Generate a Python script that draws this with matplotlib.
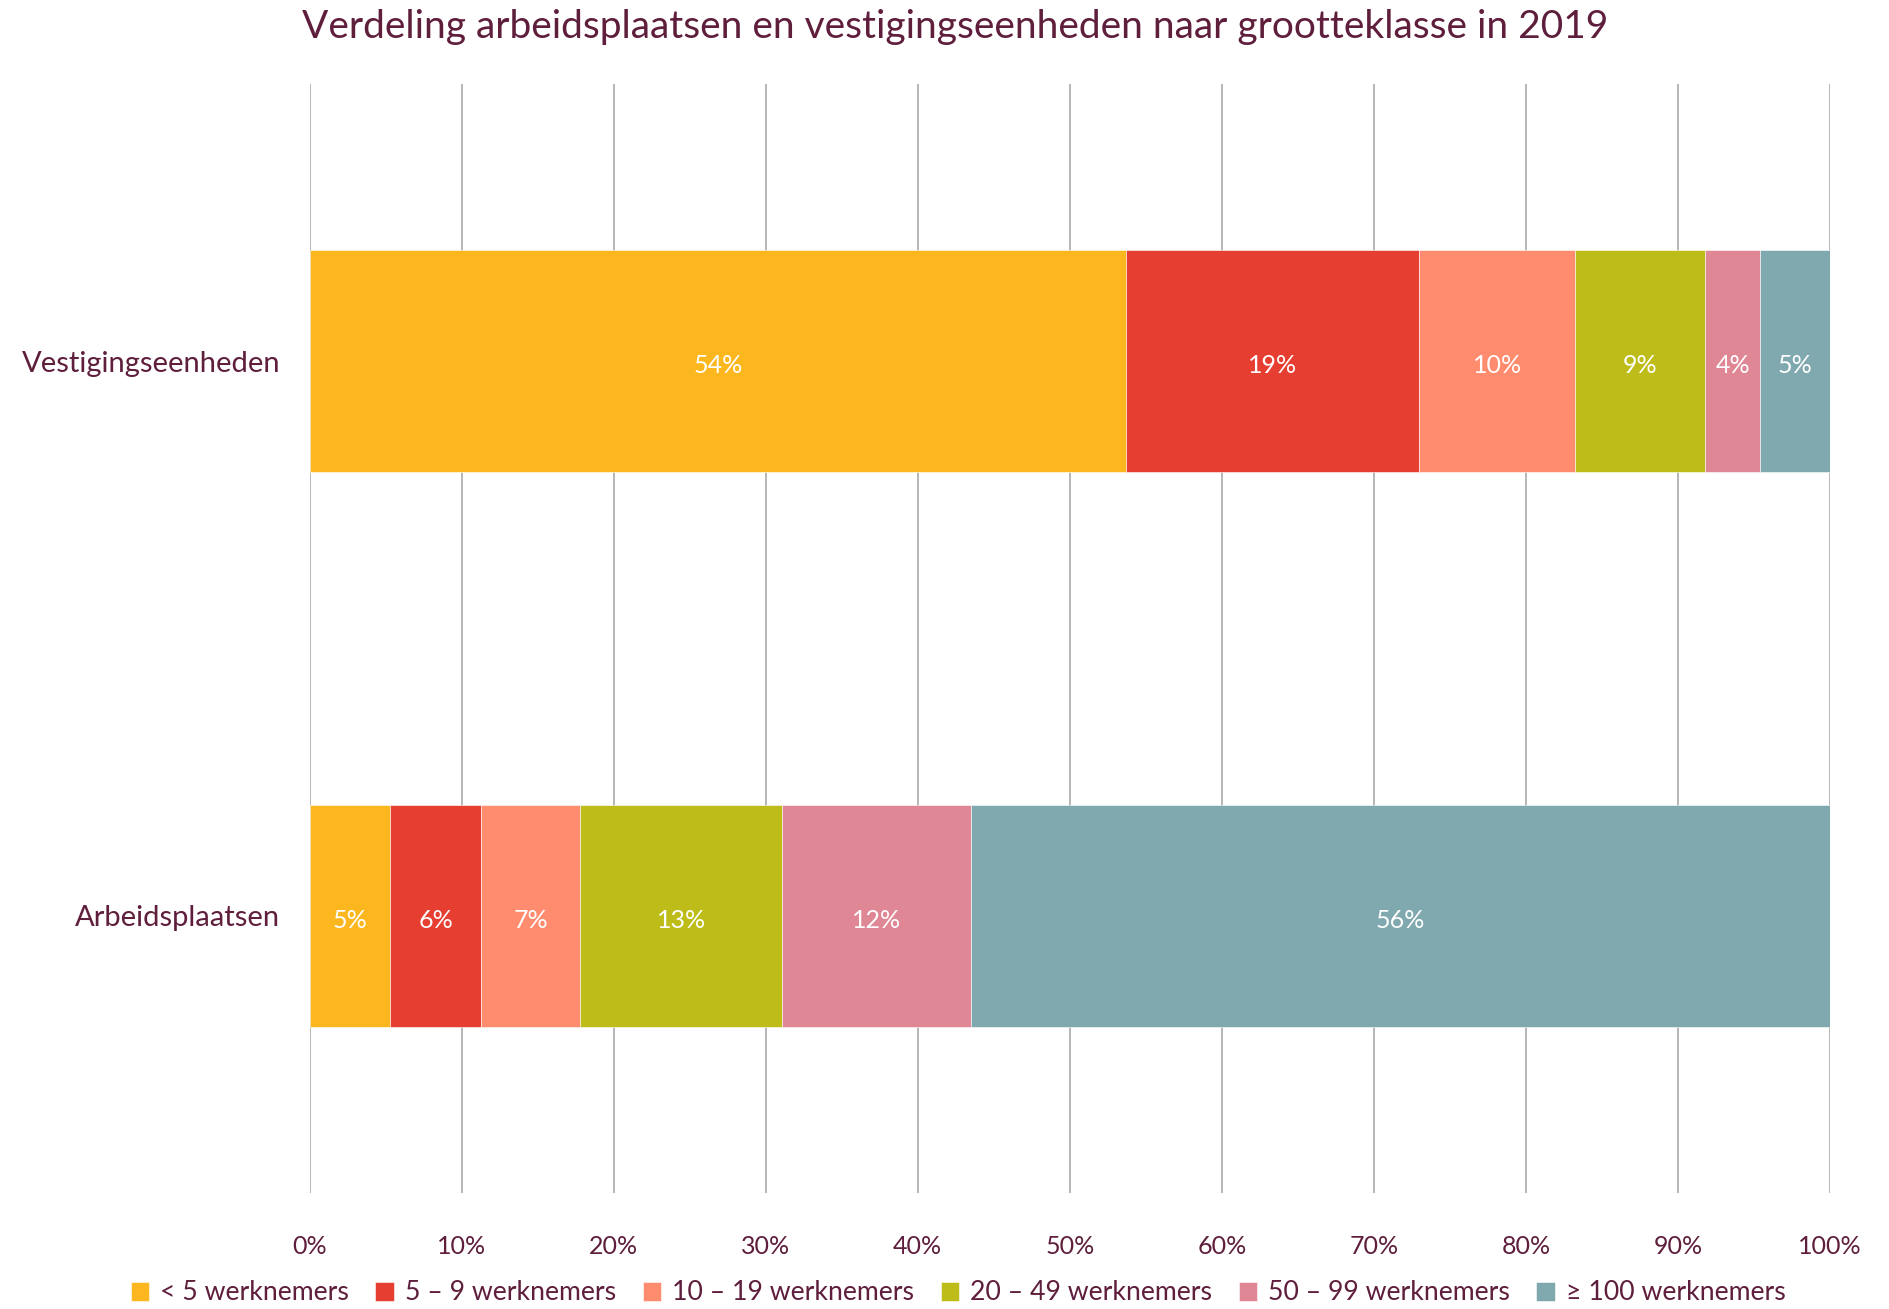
import matplotlib
matplotlib.use("Agg")
import matplotlib.pyplot as plt
import numpy as np

categories = ["Vestigingseenheden", "Arbeidsplaatsen"]
series_names = ["< 5 werknemers", "5 – 9 werknemers", "10 – 19 werknemers",
                "20 – 49 werknemers", "50 – 99 werknemers", "≥ 100 werknemers"]
vestigingseenheden = [53.7, 19.3, 10.2, 8.6, 3.6, 4.6]
arbeidsplaatsen = [5.3, 6.0, 6.5, 13.3, 12.4, 56.5]
labels_vest = ["54%", "19%", "10%", "9%", "4%", "5%"]
labels_arb = ["5%", "6%", "7%", "13%", "12%", "56%"]
colors = ["#FDB71E", "#E63E30", "#FF8C6E", "#BDBC19", "#DF8795", "#7FA8AF"]
xticks = list(range(0, 101, 10))
xticklabels = [f"{t}%" for t in xticks]

text_color = "#5E1E3C"
plt.rcParams['font.family'] = ['Lato', 'DejaVu Sans']

fig = plt.figure(figsize=(18.89, 13.09), dpi=100)
ax = fig.add_axes([309.6/1889, 1-1193/1309, (1830-309.6)/1889, (1193-84)/1309])

data = [vestigingseenheden, arbeidsplaatsen]
labels = [labels_vest, labels_arb]
ypos = [1, 0]
for j in range(len(series_names)):
    vals = [d[j] for d in data]
    lefts = [sum(d[:j]) for d in data]
    bars = ax.barh(ypos, vals, left=lefts, height=0.4, color=colors[j],
                   edgecolor="white", linewidth=0.4, label=series_names[j], zorder=2)
    for b, lab in zip(bars, [l[j] for l in labels]):
        ax.text(b.get_x() + b.get_width()/2, b.get_y() + b.get_height()/2 - 0.008, lab,
                ha="center", va="center", color="white", fontsize=18, zorder=3)

ax.set_xlim(0, 100)
ax.set_ylim(-0.5, 1.5)
ax.set_xticks(xticks)
ax.set_xticklabels(xticklabels, color=text_color, fontsize=18)
ax.set_yticks(ypos)
ax.set_yticklabels(categories, color=text_color, fontsize=21)
ax.tick_params(axis="x", length=0, pad=30)
ax.tick_params(axis="y", length=0, pad=21)
ax.grid(axis="x", color="#AAAAAA", linewidth=1.2, zorder=0)
ax.set_axisbelow(True)
for s in ax.spines.values():
    s.set_visible(False)

fig.text(955/1889, 1-27/1309, "Verdeling arbeidsplaatsen en vestigingseenheden naar grootteklasse in 2019",
         ha="center", va="center", color=text_color, fontsize=28)

leg = fig.legend(loc="center", bbox_to_anchor=(958/1889, 1-1293/1309), ncol=6, frameon=False,
                 fontsize=19.2, handlelength=0.7, handleheight=0.7, handletextpad=0.4,
                 columnspacing=1.0)
for t in leg.get_texts():
    t.set_color(text_color)

fig.savefig("out.png", dpi=100)
